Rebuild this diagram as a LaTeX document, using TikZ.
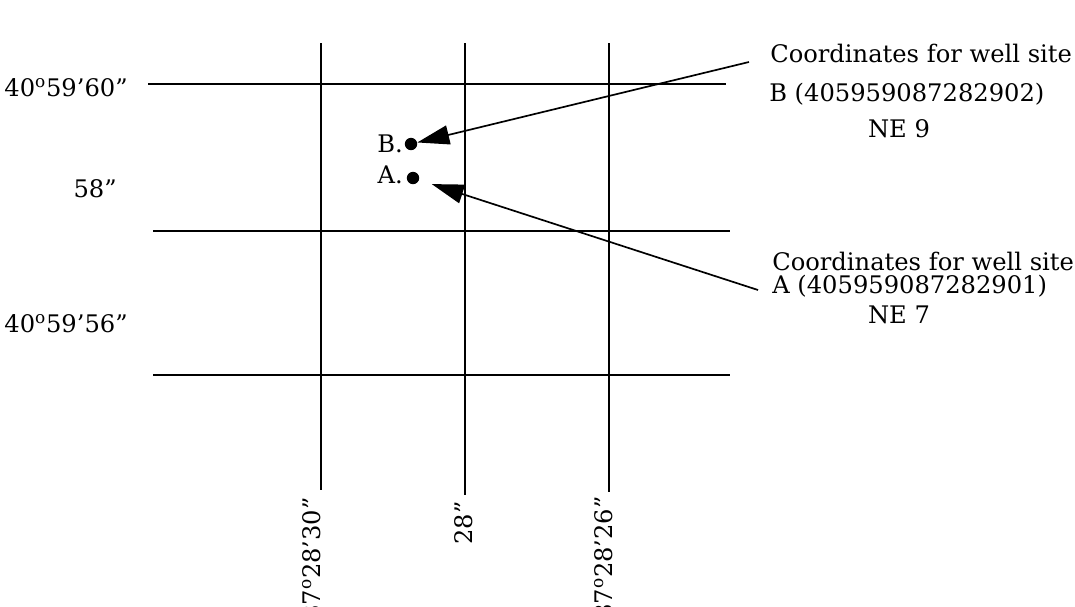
\documentclass[tikz,border=0pt]{standalone}
\usepackage{fontspec}
\setmainfont{DejaVu Serif}
\usetikzlibrary{arrows.meta}
\newcommand{\degsup}{\textsuperscript{o}}

\begin{document}
\begin{tikzpicture}[x=0.025cm, y=-0.025cm,
  grid/.style={line width=1.2pt, black},
  lbl/.style={font=\fontsize{17.2}{20}\selectfont, inner sep=0pt},
  dot/.style={circle, fill=black, inner sep=0pt, minimum size=0.31cm},
  arr/.style={-{Triangle[length=0.8cm, width=0.48cm]}, line width=1.2pt},
]
  \useasboundingbox (0,0) rectangle (1075,606);

  % grid lines
  \draw[grid] (148,84) -- (726,84);
  \draw[grid] (153,231) -- (730,231);
  \draw[grid] (153,375) -- (730,375);
  \draw[grid] (321,43) -- (321,490);
  \draw[grid] (465,43) -- (465,495);
  \draw[grid] (609,43) -- (609,492);

  % latitude labels
  \node[lbl, anchor=base east] (lat60) at (128,96) {40\degsup59’60”};
  \node[lbl, anchor=base east] (lat58) at (117,197) {58”};
  \node[lbl, anchor=base east] (lat56) at (128,332) {40\degsup59’56”};

  % longitude labels
  \node[lbl, rotate=90, anchor=east] (lon30) at (312,497) {87\degsup28’30”};
  \node[lbl, rotate=90, anchor=east] (lon28) at (464,501) {28”};
  \node[lbl, rotate=90, anchor=east] (lon26) at (604,496) {87\degsup28’26”};

  % well sites
  \node[dot] (siteB) at (411,144) {};
  \node[dot] (siteA) at (413,178) {};
  \node[lbl, anchor=base east] (nameB) at (403,152) {B.};
  \node[lbl, anchor=base east] (nameA) at (403,183) {A.};

  % callouts
  \node[lbl, anchor=base west] (coordB) at (770,62) {Coordinates for well site};
  \node[lbl, anchor=base west] (idB) at (769,101) {B (405959087282902)};
  \node[lbl, anchor=base] (neB) at (899,137) {NE 9};
  \node[lbl, anchor=base west] (coordA) at (772,270) {Coordinates for well site};
  \node[lbl, anchor=base west] (idA) at (772,293) {A (405959087282901)};
  \node[lbl, anchor=base] (neA) at (899,323) {NE 7};

  \coordinate (startB) at (749,62);
  \coordinate (startA) at (758,290);
  \draw[arr] (startB) -- (siteB);
  \draw[arr, shorten >=0.33cm] (startA) -- (siteA);
\end{tikzpicture}
\end{document}
